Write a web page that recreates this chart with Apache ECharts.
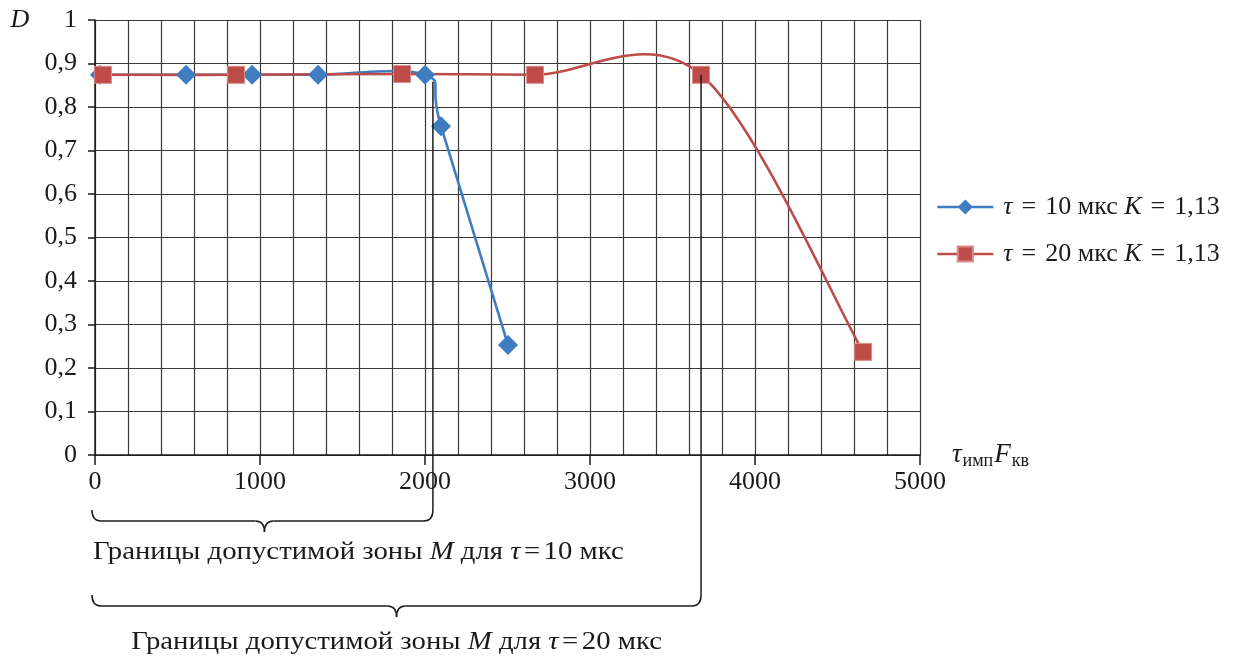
<!DOCTYPE html>
<html><head><meta charset="utf-8">
<script src="https://cdn.jsdelivr.net/npm/echarts@6/dist/echarts.min.js"></script>
<style>html,body{margin:0;padding:0;background:#fff}#c{width:1240px;height:658px}</style>
</head><body><div id="c"></div>
<script>
// ---- data ----
const tau10X = [30, 552, 952, 1352, 2000, 2097, 2503];
const tau10D = [0.874, 0.874, 0.874, 0.874, 0.874, 0.756, 0.253];
const tau20X = [48, 855, 1861, 2667, 3673, 4655];
const tau20D = [0.874, 0.874, 0.876, 0.874, 0.874, 0.237];
const seriesNames = ['tau10', 'tau20'];
const legendTau = ['10', '20'];
const legendK = ['1,13', '1,13'];
const xTicks = [0, 1000, 2000, 3000, 4000, 5000];
const yTicks = [0, 0.1, 0.2, 0.3, 0.4, 0.5, 0.6, 0.7, 0.8, 0.9, 1];
const zoneEnd = [2048, 3673];       // right bounds of the admissible zones
const zoneStartD = [0.858, 0.874];  // where the bound line leaves the curve
const zoneTau = ['10', '20'];

const FONT = '"Liberation Serif", "DejaVu Serif", serif';
const INK = '#1a1a1a';
const BLUE = '#3f7cc0';
const RED = '#be4b48';

const chart = echarts.init(document.getElementById('c'), null, {renderer: 'canvas'});

function pairs(xs, ys) { return xs.map((x, i) => [x, ys[i]]); }

// Excel-like smoothed curve (Catmull-Rom / Bezier), drawn through the axis scales
function splineRenderer(pts, color) {
  return function (params, api) {
    const i = params.dataIndex;
    if (i >= pts.length - 1) return null;
    const P = k => api.coord(pts[Math.max(0, Math.min(pts.length - 1, k))]);
    const p0 = P(i - 1), p1 = P(i), p2 = P(i + 1), p3 = P(i + 2);
    return {
      type: 'bezierCurve',
      shape: {
        x1: p1[0], y1: p1[1],
        cpx1: p1[0] + (p2[0] - p0[0]) / 6, cpy1: p1[1] + (p2[1] - p0[1]) / 6,
        cpx2: p2[0] - (p3[0] - p1[0]) / 6, cpy2: p2[1] - (p3[1] - p1[1]) / 6,
        x2: p2[0], y2: p2[1]
      },
      style: {stroke: color, lineWidth: 2.6, fill: null, lineCap: 'round'},
      silent: true
    };
  };
}

const pts10 = pairs(tau10X, tau10D);
const pts20 = pairs(tau20X, tau20D);

const option = {
  animation: false,
  backgroundColor: '#fff',
  grid: {left: 95, right: 320, top: 20, bottom: 203, containLabel: false},
  xAxis: {
    type: 'value', min: xTicks[0], max: xTicks[xTicks.length - 1], interval: 1000,
    name: '{i|τ}{s|имп}{i|F}{s|кв}', nameLocation: 'end', nameGap: 20,
    nameTextStyle: {
      fontFamily: FONT, color: INK,
      rich: {
        i: {fontFamily: FONT, fontStyle: 'italic', fontSize: 27, color: INK},
        s: {fontFamily: FONT, fontSize: 18, color: INK, padding: [12, 1, 0, 1]}
      }
    },
    axisLine: {show: true, lineStyle: {color: INK, width: 1.5}},
    axisTick: {show: true, inside: false, length: 10, lineStyle: {color: INK, width: 1.5}},
    minorTick: {show: false, splitNumber: 5},
    axisLabel: {fontFamily: FONT, fontSize: 26, color: INK, margin: 14,
      formatter: v => xTicks.includes(v) ? String(v) : ''},
    splitLine: {show: true, lineStyle: {color: '#3a3a3a', width: 1.2}},
    minorSplitLine: {show: true, lineStyle: {color: '#3a3a3a', width: 1.2}}
  },
  yAxis: {
    type: 'value', min: 0, max: 1, interval: 0.1,
    axisLine: {show: true, lineStyle: {color: INK, width: 1.5}},
    axisTick: {show: true, inside: false, length: 7, lineStyle: {color: INK, width: 1.5}},
    axisLabel: {fontFamily: FONT, fontSize: 26, color: INK, margin: 18,
      formatter: v => {
        const t = yTicks.find(y => Math.abs(y - v) < 1e-6);
        return t === undefined ? '' : String(t).replace('.', ',');
      }},
    splitLine: {show: true, lineStyle: {color: '#3a3a3a', width: 1.2}}
  },
  legend: {
    orient: 'vertical', left: 931, top: 189, itemGap: 21, itemWidth: 56, itemHeight: 19,
    data: [
      {name: seriesNames[0], lineStyle: {opacity: 1, color: BLUE, width: 2.6}},
      {name: seriesNames[1], lineStyle: {opacity: 1, color: RED, width: 2.6}}
    ],
    formatter: name => {
      const i = seriesNames.indexOf(name);
      return '{i|τ}{e|=}{r|' + legendTau[i] + ' мкс }{i|K}{e|=}{r|' + legendK[i] + '}';
    },
    textStyle: {
      fontFamily: FONT, fontSize: 26, color: INK, padding: [0, 0, 0, 5],
      rich: {
        i: {fontFamily: FONT, fontStyle: 'italic', fontSize: 26, color: INK},
        e: {fontFamily: FONT, fontSize: 26, color: INK, padding: [0, 9, 0, 9]},
        r: {fontFamily: FONT, fontSize: 26, color: INK}
      }
    }
  },
  series: [
    {
      name: 'curve10', type: 'custom', data: pts10,
      encode: {x: 0, y: 1}, renderItem: splineRenderer(pts10, BLUE), z: 2, clip: false
    },
    {
      name: 'curve20', type: 'custom', data: pts20,
      encode: {x: 0, y: 1}, renderItem: splineRenderer(pts20, RED), z: 2, clip: false
    },
    {
      name: seriesNames[0], type: 'line', data: pts10,
      symbol: 'diamond', symbolSize: 20,
      lineStyle: {color: BLUE, width: 2.6, opacity: 0},
      itemStyle: {color: BLUE},
      z: 3
    },
    {
      name: seriesNames[1], type: 'line', data: pts20,
      symbol: 'rect', symbolSize: 17,
      lineStyle: {color: RED, width: 2.6, opacity: 0},
      itemStyle: {color: RED, borderColor: '#d98c8a', borderWidth: 1},
      z: 4
    }
  ]
};
chart.setOption(option);

// ---- annotations: zone bounds, braces and captions ----
function buildAnnotations() {
  const els = [];
  const origin = chart.convertToPixel({gridIndex: 0}, [0, 0]);
  const axisY = origin[1];
  const left = origin[0] - 3;
  const braceTop = [axisY + 55, axisY + 140];
  const captionGap = [20, 25];
  const r = 9, h = 11;
  const lineStyle = {stroke: INK, lineWidth: 1.5, fill: null};
  zoneEnd.forEach((xv, k) => {
    const p = chart.convertToPixel({gridIndex: 0}, [xv, zoneStartD[k]]);
    const xR = p[0];
    const yT = braceTop[k];
    const yH = yT + h;
    const yTip = yH + h;
    const xM = (left + xR) / 2 + (k === 0 ? 2 : 0);
    els.push({type: 'line', shape: {x1: xR, y1: p[1], x2: xR, y2: yT}, style: lineStyle, z: 10});
    els.push({type: 'bezierCurve', shape: {x1: left, y1: yT, cpx1: left, cpy1: yH, x2: left + r, y2: yH}, style: lineStyle});
    els.push({type: 'line', shape: {x1: left + r, y1: yH, x2: xM - r, y2: yH}, style: lineStyle});
    els.push({type: 'bezierCurve', shape: {x1: xM - r, y1: yH, cpx1: xM, cpy1: yH, x2: xM, y2: yTip}, style: lineStyle});
    els.push({type: 'bezierCurve', shape: {x1: xM, y1: yTip, cpx1: xM, cpy1: yH, x2: xM + r, y2: yH}, style: lineStyle});
    els.push({type: 'line', shape: {x1: xM + r, y1: yH, x2: xR - r, y2: yH}, style: lineStyle});
    els.push({type: 'bezierCurve', shape: {x1: xR - r, y1: yH, cpx1: xR, cpy1: yH, x2: xR, y2: yT}, style: lineStyle});
    const text = '{r|Границы допустимой зоны }{i|M}{r| для }{i|τ}{e|=}{r|' + zoneTau[k] + ' мкс}';
    els.push({
      type: 'text',
      x: k === 0 ? left + 1 : xM,
      y: yTip + captionGap[k],
      scaleX: 1.15, scaleY: 1,
      style: {
        text: text,
        align: k === 0 ? 'left' : 'center',
        verticalAlign: 'middle',
        fill: INK,
        font: '25px ' + FONT,
        rich: {
          r: {fontFamily: FONT, fontSize: 25, fill: INK},
          e: {fontFamily: FONT, fontSize: 25, fill: INK, padding: [0, 3, 0, 3]},
          i: {fontFamily: FONT, fontSize: 25, fontStyle: 'italic', fill: INK}
        }
      }
    });
  });
  const top = chart.convertToPixel({gridIndex: 0}, [0, 1]);
  els.push({
    type: 'text', x: 20, y: top[1],
    style: {text: 'D', align: 'center', verticalAlign: 'middle', fill: INK,
      font: 'italic 26px ' + FONT}
  });
  chart.setOption({graphic: {elements: els}});
}
buildAnnotations();
</script>
</body></html>
